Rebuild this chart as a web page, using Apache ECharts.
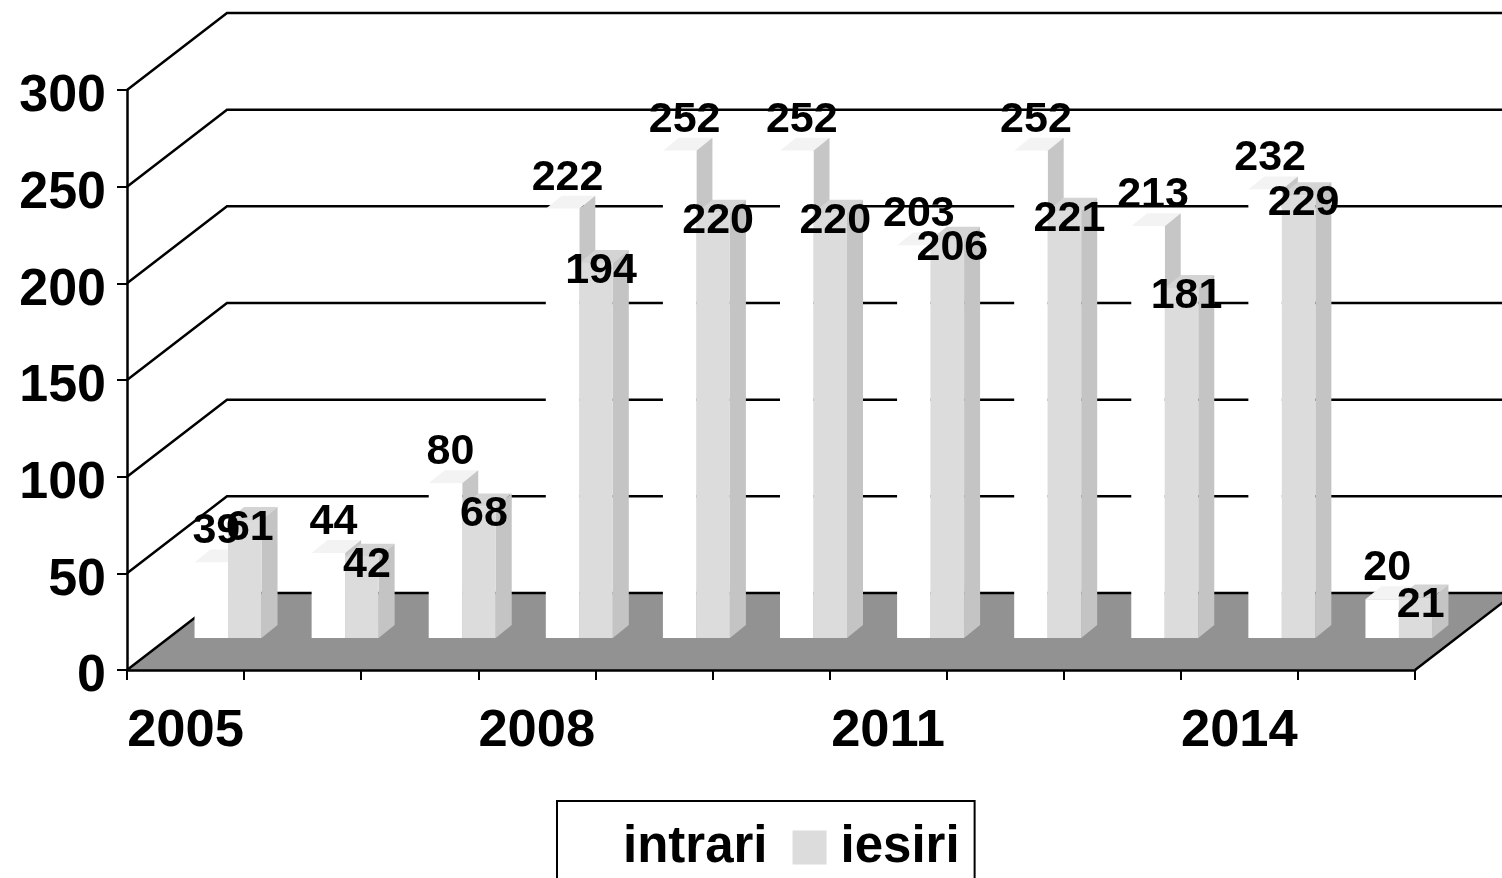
<!DOCTYPE html>
<html>
<head>
<meta charset="utf-8">
<title>intrari iesiri</title>
<script src="https://cdn.jsdelivr.net/npm/echarts@6/dist/echarts.min.js"></script>
<style>
  html, body { margin: 0; padding: 0; background: #fff; overflow: hidden; }
  #main { width: 1502px; height: 878px; }
</style>
</head>
<body>
<div id="main"></div>
<script>
var years = ['2005', '2006', '2007', '2008', '2009', '2010', '2011', '2012', '2013', '2014', '2015'];
var intrari = [39, 44, 80, 222, 252, 252, 203, 252, 213, 232, 20];
var iesiri = [61, 42, 68, 194, 220, 220, 206, 221, 181, 229, 21];
var yTicks = [0, 50, 100, 150, 200, 250, 300];

var myChart = echarts.init(document.getElementById('main'));

// fake 3d: how far the back wall and the bar row sit behind the axis
var WALL_DX = 100, WALL_DY = -77;
var ROW_DX = 42.5, ROW_DY = -32;
var BAR_W = 33.5, SIDE_DX = 16, SIDE_DY = -13;
var LABEL_FONT = 'bold 43px "Liberation Sans", Arial, sans-serif';

function pairs(values) {
  return values.map(function (v, i) { return [i, v]; });
}

function poly(points, fill) {
  return { type: 'polygon', shape: { points: points }, style: { fill: fill, stroke: null } };
}

function renderFloor(params, api) {
  var half = api.size([1, 0])[0] / 2;
  var first = api.coord([0, 0]);
  var last = api.coord([years.length - 1, 0]);
  var xa = first[0] - half, xb = last[0] + half, y = first[1];
  return poly([[xa, y], [xb, y], [xb + WALL_DX, y + WALL_DY], [xa + WALL_DX, y + WALL_DY]], '#929292');
}

function renderWall(params, api) {
  var half = api.size([1, 0])[0] / 2;
  var p = api.coord([0, api.value(1)]);
  var last = api.coord([years.length - 1, 0]);
  var xa = p[0] - half, y = p[1];
  var xb = last[0] + half + WALL_DX;
  return {
    type: 'polyline',
    shape: { points: [[xa, y], [xa + WALL_DX, y + WALL_DY], [xb, y + WALL_DY]] },
    style: { stroke: '#000', lineWidth: 2.5, fill: null }
  };
}

function renderEdge(params, api) {
  var half = api.size([1, 0])[0] / 2;
  var last = api.coord([years.length - 1, 0]);
  var xb = last[0] + half;
  return {
    type: 'line',
    shape: { x1: xb, y1: last[1], x2: xb + WALL_DX, y2: last[1] + WALL_DY },
    style: { stroke: '#000', lineWidth: 2.5 }
  };
}

function barRenderer(offset, front, side, top, labelDx, labelDy) {
  return function (params, api) {
    var i = api.value(0), v = api.value(1);
    var base = api.coord([i, 0]), tip = api.coord([i, v]);
    var xa = base[0] + ROW_DX + offset, xb = xa + BAR_W;
    var yb = base[1] + ROW_DY, yt = tip[1] + ROW_DY;
    return {
      type: 'group',
      children: [
        poly([[xa, yt], [xb, yt], [xb + SIDE_DX, yt + SIDE_DY], [xa + SIDE_DX, yt + SIDE_DY]], top),
        poly([[xb, yb], [xb + SIDE_DX, yb + SIDE_DY], [xb + SIDE_DX, yt + SIDE_DY], [xb, yt]], side),
        poly([[xa, yb], [xb, yb], [xb, yt], [xa, yt]], front),
        {
          type: 'text',
          z2: 20 + params.seriesIndex,
          style: {
            text: String(v),
            x: xa + BAR_W / 2 + labelDx,
            y: yt + labelDy,
            align: 'center',
            verticalAlign: 'middle',
            font: LABEL_FONT,
            fill: '#000'
          }
        }
      ]
    };
  };
}

var option = {
  animation: false,
  backgroundColor: '#fff',
  grid: { left: 127, right: 87, top: 90, bottom: 208 },
  xAxis: {
    type: 'category',
    data: years,
    z: 10,
    axisLine: { lineStyle: { color: '#000', width: 2.5 } },
    axisTick: { show: true, interval: 0, length: 10, lineStyle: { color: '#000', width: 2 } },
    axisLabel: {
      interval: 2,
      margin: 35,
      color: '#000',
      fontFamily: '"Liberation Sans", Arial, sans-serif',
      fontWeight: 'bold',
      fontSize: 52.5
    }
  },
  yAxis: {
    type: 'value',
    min: 0,
    max: 300,
    interval: 50,
    z: 10,
    splitLine: { show: false },
    axisLine: { show: true, lineStyle: { color: '#000', width: 2.5 } },
    axisTick: { show: true, length: 10, lineStyle: { color: '#000', width: 2 } },
    axisLabel: {
      margin: 21,
      formatter: '{t|{value}}',
      rich: {
        t: {
          padding: [14, 0, 0, 0],
          color: '#000',
          fontFamily: '"Liberation Sans", Arial, sans-serif',
          fontWeight: 'bold',
          fontSize: 52
        }
      }
    }
  },
  legend: {
    left: 557,
    top: 801,
    orient: 'horizontal',
    itemWidth: 34,
    itemHeight: 34,
    itemGap: 25,
    padding: [21, 15, 34, 18],
    borderColor: '#000',
    borderWidth: 2,
    icon: 'rect',
    textStyle: {
      color: '#000',
      fontFamily: '"Liberation Sans", Arial, sans-serif',
      fontWeight: 'bold',
      fontSize: 51,
      padding: [0, 0, 0, 9]
    },
    data: [
      { name: 'intrari', itemStyle: { color: '#fff' } },
      { name: 'iesiri', itemStyle: { color: '#dcdcdc' } }
    ]
  },
  series: [
    { type: 'custom', z: 1, renderItem: renderFloor, data: [[0, 0]], encode: { x: 0, y: 1 }, silent: true },
    { type: 'custom', z: 2, renderItem: renderWall, data: pairs(yTicks), encode: { x: 0, y: 1 }, silent: true },
    { type: 'custom', z: 2, renderItem: renderEdge, data: [[0, 0]], encode: { x: 0, y: 1 }, silent: true },
    {
      name: 'intrari',
      type: 'custom',
      z: 3,
      renderItem: barRenderer(-BAR_W, '#fff', '#c6c6c6', '#f3f3f3', 5, -31),
      data: pairs(intrari),
      encode: { x: 0, y: 1 }
    },
    {
      name: 'iesiri',
      type: 'custom',
      z: 3,
      renderItem: barRenderer(0, '#dcdcdc', '#c4c4c4', '#d4d4d4', 5, 8),
      data: pairs(iesiri),
      encode: { x: 0, y: 1 }
    }
  ]
};

myChart.setOption(option);
</script>
</body>
</html>
